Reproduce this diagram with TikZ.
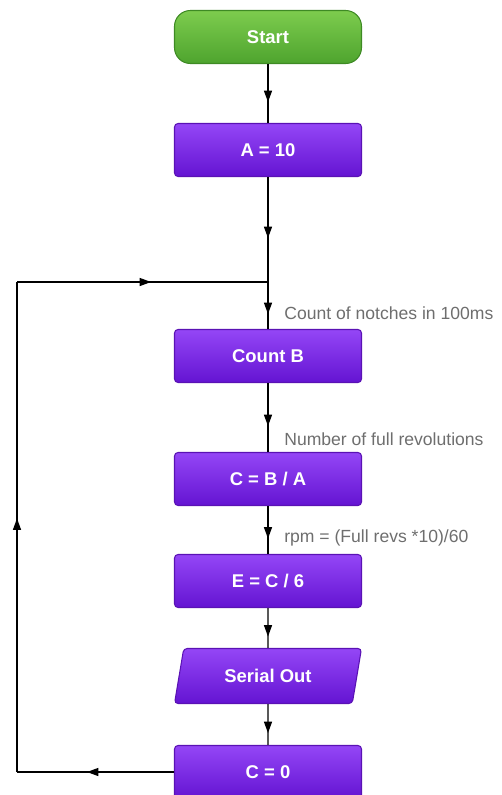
\documentclass[tikz,border=0pt]{standalone}
\usepackage{fontspec}
\setmainfont{Liberation Sans}
\usepackage{tikz}
\usetikzlibrary{shapes.geometric, positioning, arrows.meta, calc}
\definecolor{boxtop}{HTML}{9446F6}
\definecolor{boxbot}{HTML}{6414D2}
\definecolor{boxedge}{HTML}{5A12B4}
\definecolor{gotop}{HTML}{7DCC4E}
\definecolor{gobot}{HTML}{4EA42E}
\definecolor{goedge}{HTML}{3E8A24}
\definecolor{notegray}{HTML}{6E6E6E}

\begin{document}
\begin{tikzpicture}[x=0.02cm, y=-0.02cm,
    block/.style={rectangle, rounded corners=2pt, draw=boxedge, line width=0.6pt,
        top color=boxtop, bottom color=boxbot, text=white,
        minimum width=3.74cm, minimum height=1.06cm,
        font=\bfseries\fontsize{10.5}{12}\selectfont},
    startbox/.style={block, rounded corners=9pt, draw=goedge,
        top color=gotop, bottom color=gobot},
    iobox/.style={block, trapezium, trapezium left angle=70, trapezium right angle=110,
        trapezium stretches body, minimum height=1.1cm},
    flow/.style={line width=0.8pt},
    tipmark/.style={isosceles triangle, isosceles triangle stretches, fill=black,
        inner sep=0pt, minimum width=4.8pt, minimum height=6.5pt, sloped, allow upside down},
    note/.style={anchor=west, text=notegray, font=\fontsize{10}{12}\selectfont, inner sep=0pt}]
    \useasboundingbox (0,0) rectangle (502,795);
    \node[startbox] (start) at (268,37) {Start};
    \node[block] (seta) at (268,150) {A = 10};
    \coordinate (join) at (268,282);
    \node[block] (countb) at (268,356) {Count B};
    \node[block] (setc) at (268,479) {C = B / A};
    \node[block] (sete) at (268,581) {E = C / 6};
    \node[iobox] (serial) at (268,676) {Serial Out};
    \node[block] (resetc) at (268,772) {C = 0};
    \coordinate (loopbl) at (17,772);
    \coordinate (looptl) at (17,282);
    \foreach \a/\b in {start.south/seta.north, seta.south/join, join/countb.north,
        countb.south/setc.north, setc.south/sete.north, sete.south/serial.north,
        serial.south/resetc.north, resetc.west/loopbl, loopbl/looptl, looptl/join}
        \draw[flow] (\a) -- node[tipmark] {} (\b);
    \node[note] (notchnote) at (284,313) {Count of notches in 100ms};
    \node[note] (revnote) at (284,439) {Number of full revolutions};
    \node[note] (rpmnote) at (284,538) {rpm = (Full revs *10)/60};
\end{tikzpicture}
\end{document}
